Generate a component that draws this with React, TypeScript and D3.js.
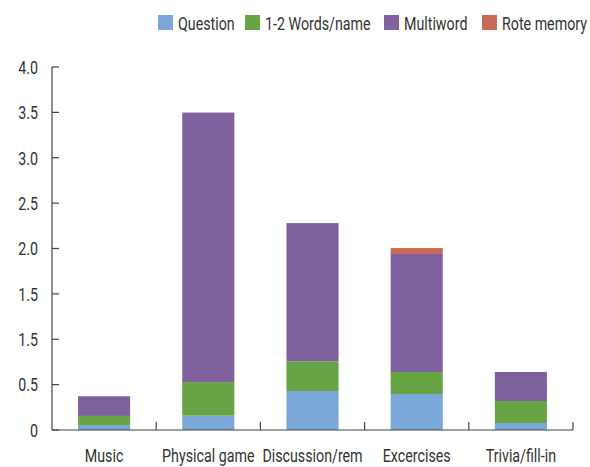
import React from "react";
import * as d3 from "d3";

const categories = ["Music", "Physical game", "Discussion/rem", "Excercises", "Trivia/fill-in"];
const seriesNames = ["Question", "1-2 Words/name", "Multiword", "Rote memory"];
const question = [0.055, 0.158, 0.43, 0.397, 0.077];
const words = [0.1, 0.37, 0.327, 0.242, 0.242];
const multiword = [0.217, 2.97, 1.523, 1.3, 0.32];
const rote = [0, 0, 0, 0.066, 0];
const colors = ["#7ba7d9", "#67a443", "#7f629d", "#c96a55"];
const yTickValues = [0, 0.5, 1, 1.5, 2, 2.5, 3, 3.5, 4];
const yTickLabels = ["0", "0.5", "1.5", "1.5", "2.0", "2.5", "3.0", "3.5", "4.0"];

const W = 590, H = 467;
const FONT = "Roboto, sans-serif";
const SX = 0.75;

function T(props: { x: number; y: number; anchor?: string; dy?: string; children: React.ReactNode }) {
  return (
    <text
      transform={`translate(${props.x},${props.y}) scale(${SX},1)`}
      textAnchor={props.anchor || "start"}
      dy={props.dy}
      fontSize={19}
      fill="#333"
    >
      {props.children}
    </text>
  );
}

export default function App() {
  const x = d3.scaleBand<string>().domain(categories).range([52, 573]).paddingInner(0.5).paddingOuter(0.25);
  const y = d3.scaleLinear().domain([0, 4]).range([430, 67]);
  const rows = categories.map((c, i) => ({ cat: c, s0: question[i], s1: words[i], s2: multiword[i], s3: rote[i] }));
  const stack = d3.stack<any>().keys(["s0", "s1", "s2", "s3"])(rows);
  const band = d3.scaleBand<string>().domain(categories).range([52, 573]);
  const legendX = [158, 245, 384, 482];
  const axisColor = "#444";
  return (
    <svg width={W} height={H} style={{ position: "absolute", left: 0, top: 0 }} fontFamily={FONT}>
      <rect width={W} height={H} fill="#fff" />
      {stack.map((layer, si) => (
        <g key={si} fill={colors[si]}>
          {layer.map((d, i) => {
            const h = y(d[0]) - y(d[1]);
            if (h <= 0) return null;
            return <rect key={i} x={x(categories[i])} width={x.bandwidth()} y={y(d[1])} height={h} />;
          })}
        </g>
      ))}
      {/* y axis */}
      <line x1={52} x2={52} y1={y(4)} y2={y(0)} stroke={axisColor} strokeWidth={1.2} />
      {yTickValues.map((v, i) => (
        <g key={i}>
          <line x1={52} x2={59} y1={y(v)} y2={y(v)} stroke={axisColor} strokeWidth={1.2} />
          <T x={38} y={y(v)} dy="0.36em" anchor="end">{yTickLabels[i]}</T>
        </g>
      ))}
      {/* x axis */}
      <line x1={52} x2={573} y1={430} y2={430} stroke={axisColor} strokeWidth={1.2} />
      {categories.map((c) => (
        <g key={c}>
          <line x1={(band(c) as number) + band.bandwidth()} x2={(band(c) as number) + band.bandwidth()} y1={422} y2={430} stroke={axisColor} strokeWidth={1.2} />
          <T x={(band(c) as number) + band.bandwidth() / 2} y={462} anchor="middle">{c}</T>
        </g>
      ))}
      {/* legend */}
      {seriesNames.map((n, i) => (
        <g key={n}>
          <rect x={legendX[i]} y={15} width={15} height={15} fill={colors[i]} />
          <T x={legendX[i] + 20} y={29.5}>{n}</T>
        </g>
      ))}
    </svg>
  );
}
